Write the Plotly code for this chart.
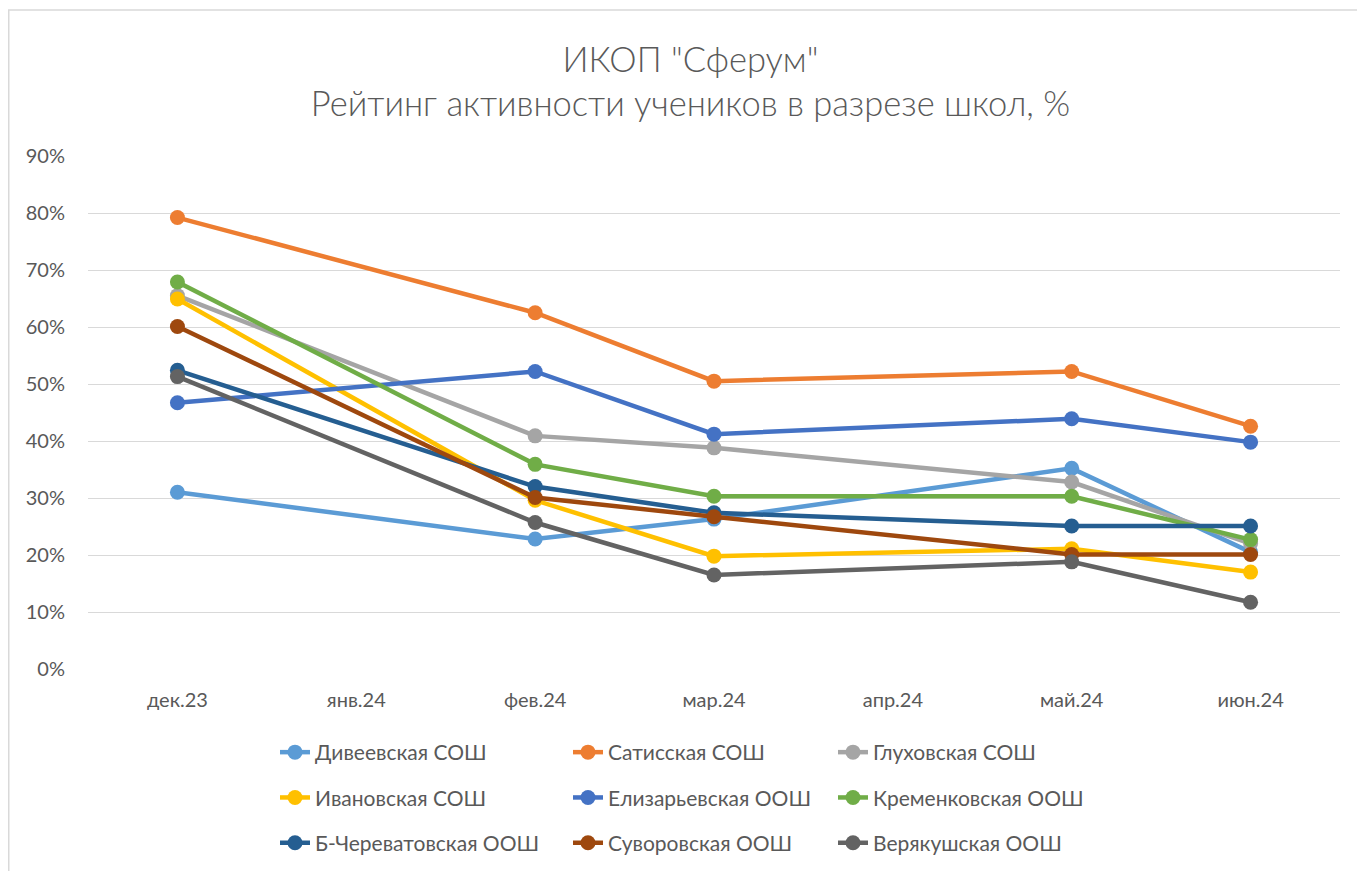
import plotly.graph_objects as go

months = ["дек.23", "янв.24", "фев.24", "мар.24", "апр.24", "май.24", "июн.24"]

diveevskaya = [0.310, None, 0.228, 0.263, None, 0.352, 0.205]
satisskaya = [0.792, None, 0.625, 0.505, None, 0.522, 0.426]
gluhovskaya = [0.655, None, 0.409, 0.388, None, 0.328, 0.220]
ivanovskaya = [0.649, None, 0.296, 0.198, None, 0.211, 0.170]
elizarevskaya = [0.467, None, 0.522, 0.412, None, 0.439, 0.398]
kremenkovskaya = [0.679, None, 0.359, 0.303, None, 0.303, 0.227]
bcherevat = [0.524, None, 0.320, 0.274, None, 0.251, 0.251]
suvorovskaya = [0.601, None, 0.301, 0.267, None, 0.201, 0.201]
veryakushskaya = [0.513, None, 0.257, 0.165, None, 0.188, 0.117]

series = [
    ("Дивеевская СОШ", diveevskaya, "#5B9BD5", "legend"),
    ("Сатисская СОШ", satisskaya, "#ED7D31", "legend2"),
    ("Глуховская СОШ", gluhovskaya, "#A5A5A5", "legend3"),
    ("Ивановская СОШ", ivanovskaya, "#FFC000", "legend"),
    ("Елизарьевская ООШ", elizarevskaya, "#4472C4", "legend2"),
    ("Кременковская ООШ", kremenkovskaya, "#70AD47", "legend3"),
    ("Б-Череватовская ООШ", bcherevat, "#255E91", "legend"),
    ("Суворовская ООШ", suvorovskaya, "#9E480E", "legend2"),
    ("Верякушская ООШ", veryakushskaya, "#636363", "legend3"),
]

FONT = "Lato"
GREY = "#595959"

fig = go.Figure()
for name, vals, color, lg in series:
    fig.add_trace(go.Scatter(
        x=months, y=vals, name=name, mode="lines+markers",
        connectgaps=True,
        line=dict(color=color, width=4.5),
        marker=dict(color=color, size=15),
        legend=lg, legendgroup=name,
    ))

# page body adds an 8px offset; figure coords = screen coords - 8
W, H = 1365, 871
L, R, T, B = 80, 33, 148, 210
pw = W - L - R
ph = H - T - B

def px(x):
    return (x - L) / pw

def py(y):
    return (H - B - y) / ph

leg_common = dict(
    orientation="v", xanchor="left", yanchor="top",
    font=dict(family=FONT, size=21, color=GREY),
    bgcolor="rgba(0,0,0,0)", tracegroupgap=15, itemwidth=30,
)

fig.update_layout(
    width=W, height=H,
    margin=dict(l=L, r=R, t=T, b=B),
    paper_bgcolor="white", plot_bgcolor="white",
    title=dict(
        text='ИКОП "Сферум"<br>Рейтинг активности учеников в разрезе школ, %',
        x=0.5, xanchor="center", y=(H - 63.5) / H, yanchor="middle",
        font=dict(family=FONT, size=34.5, color=GREY, weight=300),
    ),
    xaxis=dict(
        type="category", categoryorder="array", categoryarray=months,
        range=[-0.5, 6.5],
        showgrid=False, showline=False, zeroline=False,
        tickfont=dict(family=FONT, size=20, color=GREY),
        ticks="", ticklabelstandoff=17,
    ),
    yaxis=dict(
        range=[0, 0.9], dtick=0.1, tickformat=".0%",
        showgrid=True, gridcolor="#D9D9D9", gridwidth=1,
        zeroline=False, showline=False,
        tickfont=dict(family=FONT, size=20, color=GREY),
        ticks="", ticklabelstandoff=22,
    ),
    legend=dict(x=px(267), y=py(724), **leg_common),
    legend2=dict(x=px(560), y=py(724), **leg_common),
    legend3=dict(x=px(825), y=py(724), **leg_common),
    shapes=[dict(
        type="rect", xref="paper", yref="paper",
        x0=px(0.75), x1=px(1356), y0=py(880), y1=py(2),
        line=dict(color="#D9D9D9", width=1.5), fillcolor="rgba(0,0,0,0)",
        layer="below",
    )],
)

fig.write_html("out.html")
